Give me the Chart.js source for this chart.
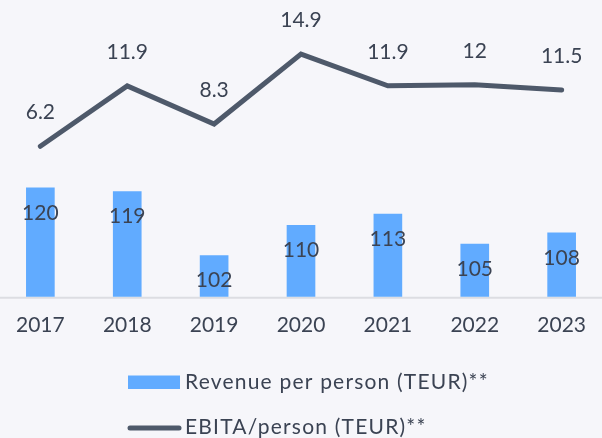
<!DOCTYPE html>
<html>
<head>
<meta charset="utf-8">
<script src="https://cdn.jsdelivr.net/npm/chart.js@4.4.0/dist/chart.umd.min.js"></script>
<style>
  html, body { margin: 0; padding: 0; background: #f6f6fa; }
  #wrap { width: 602px; height: 438px; }
</style>
</head>
<body>
<div id="wrap"><canvas id="perPerson"></canvas></div>
<script>
const years = ['2017', '2018', '2019', '2020', '2021', '2022', '2023'];
const revenuePerPerson = [120, 119, 102, 110, 113, 105, 108];
const ebitaPerPerson = [6.2, 11.9, 8.3, 14.9, 11.9, 12, 11.5];
const seriesNames = ['Revenue per person (TEUR)**', 'EBITA/person (TEUR)**'];

const textColor = '#3b4353';
const barColor = '#61abff';
const lineColor = '#4e596a';
const fontFamily = 'Lato, sans-serif';

// axis line runs the full width, not only the chart area
const baseLine = {
    id: 'baseLine',
    beforeDatasetsDraw(chart) {
        const ctx = chart.ctx;
        const y = chart.chartArea.bottom + 1;
        ctx.save();
        ctx.strokeStyle = '#dcdde2';
        ctx.lineWidth = 2;
        ctx.beginPath();
        ctx.moveTo(0, y);
        ctx.lineTo(chart.width, y);
        ctx.stroke();
        ctx.restore();
    }
};

const valueLabels = {
    id: 'valueLabels',
    afterDatasetsDraw(chart) {
        const ctx = chart.ctx;
        ctx.save();
        ctx.font = '21px ' + fontFamily;
        ctx.fillStyle = textColor;
        ctx.textAlign = 'center';
        ctx.textBaseline = 'middle';
        chart.getDatasetMeta(0).data.forEach((bar, i) => {
            ctx.fillText(String(revenuePerPerson[i]), bar.x, bar.y + 25);
        });
        chart.getDatasetMeta(1).data.forEach((pt, i) => {
            ctx.fillText(String(ebitaPerPerson[i]), pt.x, pt.y - 34);
        });
        ctx.restore();
    }
};

// legend rows are left aligned on the same x
const rowLegend = {
    id: 'rowLegend',
    afterDraw(chart) {
        const ctx = chart.ctx;
        const x0 = 128;
        const y1 = chart.height - 56;
        const y2 = chart.height - 10;
        ctx.save();
        ctx.fillStyle = barColor;
        ctx.fillRect(x0, y1 - 6.5, 52, 13.5);
        ctx.strokeStyle = lineColor;
        ctx.lineWidth = 5;
        ctx.lineCap = 'round';
        ctx.beginPath();
        ctx.moveTo(x0 + 2, y2);
        ctx.lineTo(x0 + 51, y2);
        ctx.stroke();
        ctx.font = '21px ' + fontFamily;
        ctx.letterSpacing = '1.2px';
        ctx.fillStyle = textColor;
        ctx.textAlign = 'left';
        ctx.textBaseline = 'middle';
        ctx.fillText(seriesNames[0], x0 + 57, y1);
        ctx.fillText(seriesNames[1], x0 + 57, y2 - 1);
        ctx.restore();
    }
};

new Chart(document.getElementById('perPerson'), {
    type: 'bar',
    data: {
        labels: years,
        datasets: [{
            label: seriesNames[0],
            data: revenuePerPerson,
            backgroundColor: barColor,
            barThickness: 28,
            yAxisID: 'yBar',
            clip: { left: false, right: false, top: false, bottom: 0 },
            order: 2
        }, {
            type: 'line',
            label: seriesNames[1],
            data: ebitaPerPerson,
            borderColor: lineColor,
            borderWidth: 5,
            borderCapStyle: 'round',
            pointRadius: 0,
            tension: 0,
            yAxisID: 'yLine',
            clip: false,
            order: 1
        }]
    },
    options: {
        responsive: true,
        maintainAspectRatio: false,
        animation: false,
        layout: {
            padding: { top: 0, left: 39, right: 30, bottom: 84 }
        },
        scales: {
            x: {
                offset: false,
                grid: { display: false, drawTicks: false },
                border: { display: false },
                ticks: {
                    color: textColor,
                    padding: 16,
                    font: { family: fontFamily, size: 21 }
                }
            },
            yBar: {
                display: false,
                min: 91,
                max: 170
            },
            yLine: {
                display: false,
                min: -8,
                max: 20
            }
        },
        plugins: {
            legend: { display: false },
            tooltip: { enabled: false }
        }
    },
    plugins: [baseLine, valueLabels, rowLegend]
});
</script>
</body>
</html>
